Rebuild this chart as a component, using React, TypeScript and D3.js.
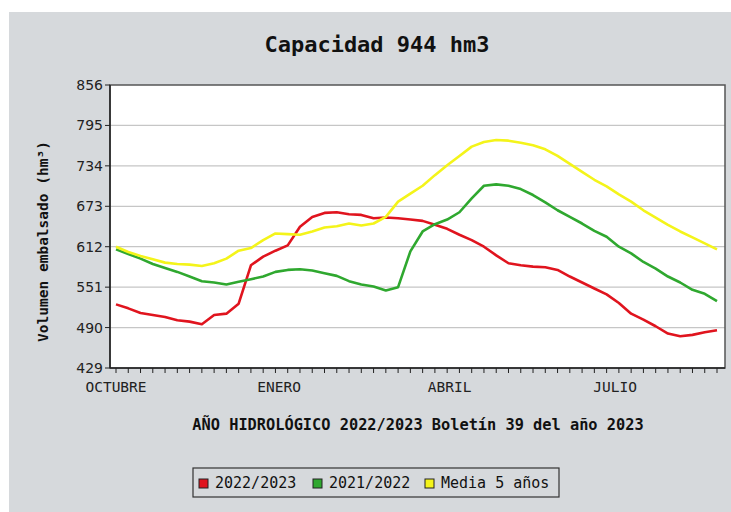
import React from "react";
import * as d3 from "d3";

// weekly stored volume (hm3), hydrological year starting in October
const serie2223 = [525, 519, 512, 509, 506, 501, 499, 495, 509, 511, 526, 584, 597, 606, 614, 642, 657, 663, 664, 661, 660, 655, 656, 655, 653, 651, 645, 639, 630, 622, 612, 599, 587, 584, 582, 581, 577, 567, 558, 549, 540, 527, 511, 502, 492, 481, 477, 479, 483, 486];
const serie2122 = [608, 601, 594, 586, 580, 574, 567, 560, 558, 555, 559, 563, 567, 574, 577, 578, 576, 572, 568, 560, 555, 552, 546, 551, 605, 635, 646, 653, 664, 685, 704, 706, 704, 699, 690, 679, 667, 657, 647, 636, 627, 612, 602, 589, 579, 567, 558, 547, 541, 530];
const media5 = [612, 604, 598, 593, 588, 586, 585, 583, 587, 594, 606, 610, 622, 632, 631, 630, 635, 641, 643, 647, 644, 647, 657, 680, 692, 704, 720, 735, 749, 763, 770, 773, 772, 769, 765, 759, 749, 737, 725, 713, 703, 691, 680, 667, 656, 645, 635, 626, 617, 608];

const yTicks = [429, 490, 551, 612, 673, 734, 795, 856];
const monthLabels = ["OCTUBRE", "ENERO", "ABRIL", "JULIO"];
const monthWeeks = [0, 13.3, 27.2, 40.7];

const series = [
  { name: "2022/2023", values: serie2223, color: "#e0141e" },
  { name: "2021/2022", values: serie2122, color: "#2fa82f" },
  { name: "Media 5 años", values: media5, color: "#f4f41a" },
];

const W = 731;
const H = 512;
const plot = { left: 110, right: 725, top: 85, bottom: 368 };
const mono = "'DejaVu Sans Mono', monospace";

export default function App() {
  const n = serie2223.length;
  const x = d3.scaleLinear().domain([0, n - 1]).range([116, 717]);
  const y = d3.scaleLinear().domain([429, 856]).range([plot.bottom, plot.top]);
  const line = d3
    .line<number>()
    .x((_, i) => x(i))
    .y((d) => y(d))
    .curve(d3.curveLinear);

  const legendX = [199, 313, 425];

  return (
    <svg
      width={W}
      height={H}
      style={{ position: "absolute", left: 0, top: 0, background: "#fff" }}
    >
      <rect x={9} y={12} width={W - 9} height={H - 12} fill="#d6d9dc" />
      <text
        x={377}
        y={52}
        textAnchor="middle"
        fontFamily={mono}
        fontWeight="bold"
        fontSize={22}
        fill="#111"
      >
        Capacidad 944 hm3
      </text>

      {/* plot area */}
      <rect
        x={plot.left}
        y={plot.top}
        width={plot.right - plot.left}
        height={plot.bottom - plot.top}
        fill="#fff"
      />
      {yTicks.slice(1, -1).map((t) => (
        <line
          key={"g" + t}
          x1={plot.left}
          x2={plot.right}
          y1={y(t)}
          y2={y(t)}
          stroke="#c6c6c6"
          strokeWidth={1.3}
        />
      ))}
      {series.map((s) => (
        <path
          key={s.name}
          d={line(s.values) || ""}
          fill="none"
          stroke={s.color}
          strokeWidth={2.6}
          strokeLinejoin="round"
        />
      ))}
      <rect
        x={plot.left}
        y={plot.top}
        width={plot.right - plot.left}
        height={plot.bottom - plot.top}
        fill="none"
        stroke="#555"
        strokeWidth={1.5}
      />
      <line x1={plot.left} x2={plot.left} y1={plot.top} y2={plot.bottom} stroke="#222" strokeWidth={1.5} />
      <line x1={plot.left} x2={plot.right} y1={plot.bottom} y2={plot.bottom} stroke="#222" strokeWidth={1.5} />

      {/* y axis */}
      {yTicks.map((t) => (
        <g key={"y" + t}>
          <line x1={plot.left - 5} x2={plot.left} y1={y(t)} y2={y(t)} stroke="#222" />
          <text
            x={103}
            y={y(t)}
            dy="0.36em"
            textAnchor="end"
            fontFamily="'DejaVu Sans', sans-serif"
            fontSize={14}
            fill="#222"
          >
            {t}
          </text>
        </g>
      ))}
      <text
        transform={`translate(43,${(plot.top + plot.bottom) / 2 + 15}) rotate(-90)`}
        textAnchor="middle"
        dy="0.35em"
        fontFamily={mono}
        fontWeight="bold"
        fontSize={14.5}
        fill="#111"
      >
        Volumen embalsado (hm³)
      </text>

      {/* x axis */}
      {d3.range(n).map((i) => (
        <line
          key={"xt" + i}
          x1={x(i)}
          x2={x(i)}
          y1={plot.bottom}
          y2={plot.bottom + 5}
          stroke="#222"
        />
      ))}
      {monthLabels.map((m, i) => (
        <text
          key={m}
          x={x(monthWeeks[i])}
          y={392}
          textAnchor="middle"
          fontFamily={mono}
          fontSize={14.5}
          fill="#222"
        >
          {m}
        </text>
      ))}
      <text
        x={418}
        y={430}
        textAnchor="middle"
        fontFamily={mono}
        fontWeight="bold"
        fontSize={15.3}
        fill="#111"
      >
        AÑO HIDROLÓGICO 2022/2023 Boletín 39 del año 2023
      </text>

      {/* legend */}
      <rect x={193} y={468} width={366} height={29} fill="#d6d9dc" stroke="#333" strokeWidth={1.2} />
      {series.map((s, i) => (
        <g key={"l" + s.name}>
          <rect x={legendX[i]} y={479} width={9} height={9} fill={s.color} stroke="#222" strokeWidth={1} />
          <text
            x={legendX[i] + 16}
            y={488}
            fontFamily={mono}
            fontSize={15}
            fill="#111"
          >
            {s.name}
          </text>
        </g>
      ))}
    </svg>
  );
}
